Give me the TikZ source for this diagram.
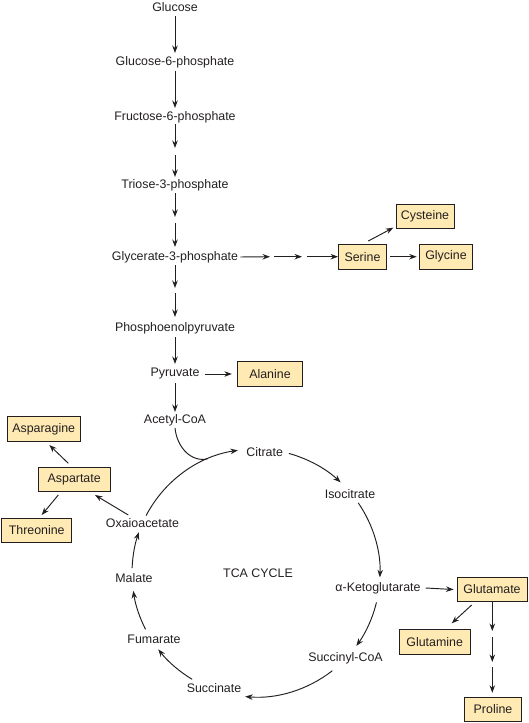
\documentclass[tikz,border=0pt]{standalone}
\usepackage{fontspec}
\setmainfont{Liberation Sans}
\usetikzlibrary{arrows.meta,calc}
\definecolor{ink}{RGB}{35,31,32}
\definecolor{boxfill}{RGB}{255,234,180}
\tikzset{
  lbl/.style={inner sep=0pt, text=ink, font=\fontsize{12.4}{14}\selectfont},
  aabox/.style={draw=ink, line width=0.9pt, fill=boxfill, inner sep=0pt, minimum height=24.5pt, text=ink, font=\fontsize{12.4}{14}\selectfont},
  arr/.style={draw=ink, line width=0.95pt, -{Stealth[length=7.5pt,width=5.5pt]}},
  plain/.style={draw=ink, line width=0.95pt}
}
\begin{document}
\begin{tikzpicture}[x=1pt,y=-1pt]
\useasboundingbox (0,0) rectangle (529,723);
% glycolysis labels
\node[lbl] (glc) at (175,7) {Glucose};
\node[lbl] (g6p) at (175,62) {Glucose-6-phosphate};
\node[lbl] (f6p) at (175,117) {Fructose-6-phosphate};
\node[lbl] (t3p) at (175,185) {Triose-3-phosphate};
\node[lbl] (g3p) at (175,257) {Glycerate-3-phosphate};
\node[lbl] (pep) at (175,328) {Phosphoenolpyruvate};
\node[lbl] (pyr) at (175,374) {Pyruvate};
\node[lbl] (acoa) at (175,420) {Acetyl-CoA};
% amino acid boxes
\node[aabox, minimum width=48pt] (ser) at (362.5,256.7) {Serine};
\node[aabox, minimum width=58pt] (cys) at (425,216.5) {Cysteine};
\node[aabox, minimum width=53.7pt] (gly) at (446,256.7) {Glycine};
\node[aabox, minimum width=65.4pt] (ala) at (270,374) {Alanine};
\node[aabox, minimum width=72.7pt] (asn) at (43.7,429) {Asparagine};
\node[aabox, minimum width=71.7pt] (asp) at (74.2,479.2) {Aspartate};
\node[aabox, minimum width=70pt] (thr) at (36.7,530.5) {Threonine};
\node[aabox, minimum width=70pt] (glu) at (492,589.5) {Glutamate};
\node[aabox, minimum width=70.7pt] (gln) at (434.7,641.7) {Glutamine};
\node[aabox, minimum width=57.7pt] (pro) at (493,709.5) {Proline};
% TCA labels
\node[lbl] (cit) at (264.7,452) {Citrate};
\node[lbl] (icit) at (350,494) {Isocitrate};
\node[lbl] (akg) at (378,588) {α-Ketoglutarate};
\node[lbl] (scoa) at (345.5,658) {Succinyl-CoA};
\node[lbl] (succ) at (214,688) {Succinate};
\node[lbl] (fum) at (154,639) {Fumarate};
\node[lbl] (mal) at (134,578) {Malate};
\node[lbl] (oaa) at (142.5,523) {Oxaioacetate};
\node[lbl] (tca) at (258,573) {TCA CYCLE};
% glycolysis arrows
\draw[arr] (glc) ++(0,9) -- (175,53);
\draw[arr] (g6p) ++(0,9) -- (175,108);
\coordinate (f1) at (175,148); \coordinate (f2) at (175,155);
\draw[arr] (f6p) ++(0,7) -- (f1);
\draw[arr] (f2) -- (175,177);
\coordinate (t1) at (175,217); \coordinate (t2) at (175,223);
\draw[arr] (t3p) ++(0,8) -- (t1);
\draw[arr] (t2) -- (175,247);
\coordinate (p1) at (175,288); \coordinate (p2) at (175,293);
\draw[arr] (g3p) ++(0,8) -- (p1);
\draw[arr] (p2) -- (175,317);
\draw[arr] (pep) ++(0,9) -- (175,364);
\draw[arr] (pyr) ++(0,9) -- (175,412);
% serine branch
\coordinate (s1) at (270,256.7); \coordinate (s2) at (274,256.7);
\coordinate (s3) at (302,256.7); \coordinate (s4) at (306.5,256.7);
\draw[arr] (g3p.east) ++(2,0) -- (s1);
\draw[arr] (s2) -- (s3);
\draw[arr] (s4) -- (ser.west);
\draw[arr] (368.3,241) -- (393.3,227.7);
\draw[arr] (ser.east) ++(3,0) -- ($(gly.west)+(-2,0)$);
% alanine
\draw[arr] (pyr.east) ++(5,0) -- ($(ala.west)+(-5,0)$);
% aspartate branch
\draw[arr] (128.3,515) -- (95,495);
\draw[arr] (68.3,463.3) -- (49.3,445);
\draw[arr] (58.3,495) -- (41.7,515);
% glutamate branch
\draw[arr] (akg.east) ++(5,0) -- ($(glu.west)+(-3,0)$);
\draw[arr] (471.7,605) -- (451.7,623.3);
\coordinate (g1) at (492.3,631); \coordinate (g2) at (492.3,637);
\coordinate (g3) at (492.3,662); \coordinate (g4) at (492.3,667);
\draw[arr] (glu.south -| g1) -- (g1);
\draw[arr] (g2) -- (g3);
\draw[arr] (g4) -- ($(pro.north -| g4)+(0,-4)$);
% TCA cycle arcs
\coordinate (C) at (256,573);
\def\R{124}
\draw[arr] ($(C)+(207.6:\R)$) arc[start angle=207.6, end angle=261.6, radius=\R];
\draw[arr] ($(C)+(285.4:\R)$) arc[start angle=285.4, end angle=313, radius=\R];
\draw[arr] ($(C)+(325.5:\R)$) arc[start angle=325.5, end angle=362, radius=\R];
\draw[arr] ($(C)+(13.7:\R)$) arc[start angle=13.7, end angle=36, radius=\R];
\draw[arr] ($(C)+(52:\R)$) arc[start angle=52, end angle=95, radius=\R];
\draw[arr] ($(C)+(121:\R)$) arc[start angle=121, end angle=142, radius=\R];
\draw[arr] ($(C)+(153:\R)$) arc[start angle=153, end angle=171.7, radius=\R];
\draw[arr] ($(C)+(182.3:\R)$) arc[start angle=182.3, end angle=199.2, radius=\R];
% acetyl-CoA joining
\coordinate (join) at ($(C)+(247.3:\R)$);
\draw[plain] (acoa.south) ++(0,2) .. controls (177,448) and (192,463) .. (join);
\end{tikzpicture}
\end{document}
